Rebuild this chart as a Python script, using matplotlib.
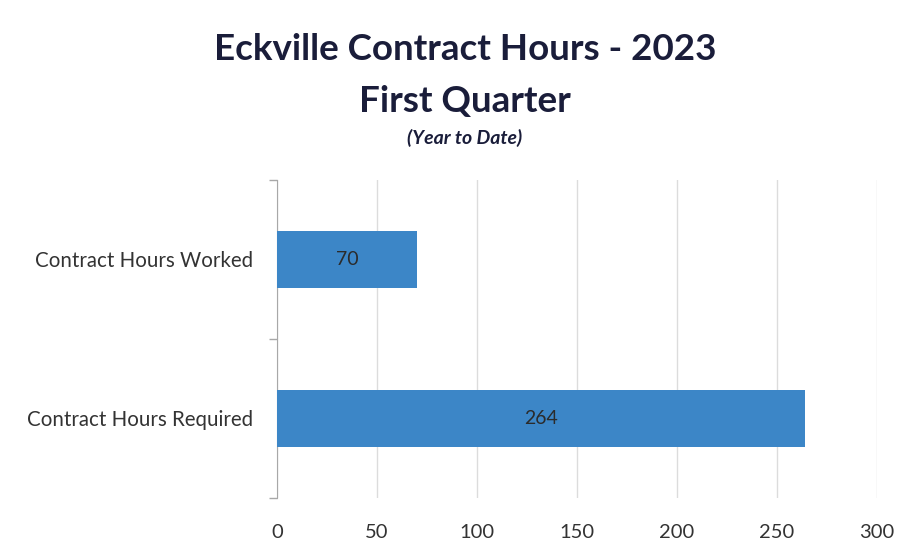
import matplotlib
matplotlib.use("Agg")
import matplotlib.pyplot as plt

# Data
categories = ["Contract Hours Worked", "Contract Hours Required"]
hours = [70, 264]
x_ticks = [0, 50, 100, 150, 200, 250, 300]

plt.rcParams["font.family"] = ["Lato", "DejaVu Sans"]

fig = plt.figure(figsize=(9.12, 5.58), dpi=100)
ax = fig.add_axes([0.3037, 0.1075, 0.6579, 0.570])

bars = ax.barh(range(len(categories)), hours, height=0.36,
               color="#3c86c7", zorder=3)

# Bar value labels in the middle of each bar
for bar, v in zip(bars, hours):
    ax.text(v / 2, bar.get_y() + bar.get_height() / 2, str(v),
            ha="center", va="center", fontsize=14, color="#2b2b2b", zorder=4)

ax.set_xlim(0, 300)
ax.set_ylim(-0.5, len(categories) - 0.5)
ax.invert_yaxis()

ax.set_xticks(x_ticks)
ax.set_yticks(range(len(categories)))
ax.set_yticklabels(categories)
ax.set_yticks([-0.5, 0.5, 1.5], minor=True)

ax.tick_params(axis="x", length=0, pad=19, labelsize=14.5, labelcolor="#333333")
ax.tick_params(axis="y", which="major", length=0, pad=17, labelsize=14.8,
               labelcolor="#333333")
ax.tick_params(axis="y", which="minor", length=6, width=1, color="#a8a8a8")

ax.grid(axis="x", color="#dcdcdc", linewidth=1, zorder=0)
for side in ["top", "right", "bottom"]:
    ax.spines[side].set_visible(False)
ax.spines["left"].set_color("#a8a8a8")

# Title block
fig.text(0.51, 0.912, "Eckville Contract Hours - 2023", ha="center", va="center",
         fontsize=26.5, fontweight="bold", color="#1a1d3a")
fig.text(0.51, 0.818, "First Quarter", ha="center", va="center",
         fontsize=26.5, fontweight="bold", color="#1a1d3a")
fig.text(0.51, 0.752, "(Year to Date)", ha="center", va="center",
         fontsize=14, fontweight="bold", fontstyle="italic", color="#1a1d3a")

fig.savefig("out.png", dpi=100)
